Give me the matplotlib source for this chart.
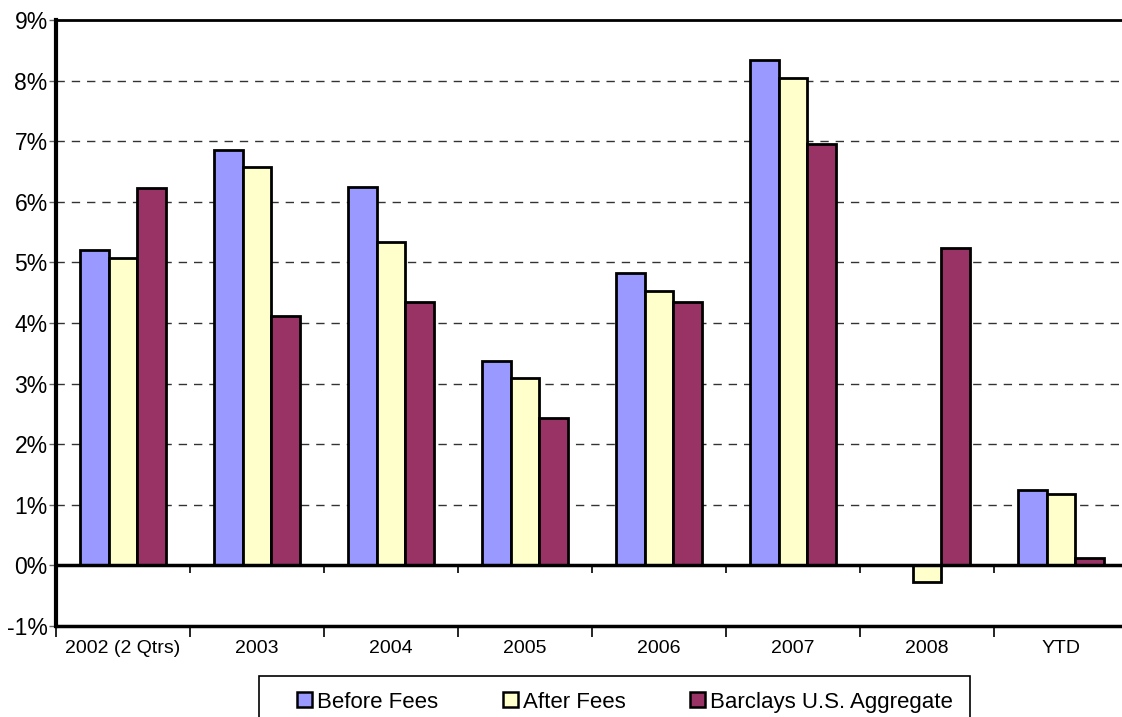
"""Annual returns: portfolio before/after fees vs. Barclays U.S. Aggregate."""

import matplotlib
matplotlib.use("Agg")
import matplotlib.pyplot as plt
import numpy as np
from matplotlib.patches import Rectangle
from matplotlib.ticker import FixedLocator, NullFormatter

categories = ["2002 (2 Qtrs)", "2003", "2004", "2005", "2006", "2007", "2008", "YTD"]
before_fees = [5.21, 6.85, 6.24, 3.37, 4.82, 8.34, 0.0, 1.25]
after_fees = [5.07, 6.58, 5.33, 3.09, 4.52, 8.05, -0.27, 1.18]
barclays_agg = [6.22, 4.11, 4.34, 2.44, 4.34, 6.96, 5.24, 0.13]

series = [
    ("Before Fees", before_fees, "#9999FF"),
    ("After Fees", after_fees, "#FFFFCC"),
    ("Barclays U.S. Aggregate", barclays_agg, "#993366"),
]
y_ticks = list(range(-1, 10))

W, H = 1122, 717
plt.rcParams["font.family"] = ["Liberation Sans", "DejaVu Sans"]

fig = plt.figure(figsize=(W / 100, H / 100), dpi=100)
ax = fig.add_axes([56 / W, 1 - 626 / H, 1072 / W, 606 / H])

x = np.arange(len(categories))
width = 0.216
for i, (label, vals, color) in enumerate(series):
    ax.bar(x + (i - 1) * width, vals, width, color=color, edgecolor="black",
           linewidth=2, label=label, zorder=3)

ax.set_xlim(-0.5, len(categories) - 0.5)
ax.set_ylim(y_ticks[0], y_ticks[-1])

# dashed gridlines and heavy zero line
for t in y_ticks[1:-1]:
    if t == 0:
        ax.axhline(0, color="black", linewidth=2.5, zorder=4)
    else:
        ax.axhline(t, color="#333333", linewidth=1, linestyle=(0, (6, 5)), zorder=1)

# tick marks hanging under the zero line at category boundaries
bounds = np.arange(0.5, len(categories) - 0.5, 1.0)
ax.vlines(bounds, -0.13, 0, color="black", linewidth=1.2, zorder=4)

ax.set_yticks(y_ticks)
ax.set_yticklabels([f"{t}%" for t in y_ticks], fontsize=16.5)
ax.tick_params(axis="y", length=5, width=1, color="#666666", pad=1)

ax.xaxis.set_major_locator(FixedLocator(np.arange(-0.5, len(categories), 1.0)))
ax.xaxis.set_major_formatter(NullFormatter())
ax.xaxis.set_minor_locator(FixedLocator(x))
ax.set_xticklabels(categories, minor=True, fontsize=14)
ax.tick_params(axis="x", which="major", length=8, width=1.2, color="black")
ax.tick_params(axis="x", which="minor", length=0, pad=10)

ax.spines["right"].set_visible(False)
ax.spines["left"].set_linewidth(3)
ax.spines["bottom"].set_linewidth(2.5)
ax.spines["top"].set_linewidth(2)


# legend box drawn by hand so entries sit where the original has them
def fpx(px, py):
    return px / W, 1 - py / H


box_l, box_t, box_r = 259, 676, 970
fig.add_artist(Rectangle(fpx(box_l, H + 10), (box_r - box_l) / W, (H + 10 - box_t) / H,
                         transform=fig.transFigure, facecolor="white",
                         edgecolor="black", linewidth=1.2))
entry_x = [297, 503, 690]
sq = 15
for (label, _, color), ex in zip(series, entry_x):
    fig.add_artist(Rectangle(fpx(ex, 707), sq / W, sq / H, transform=fig.transFigure,
                             facecolor=color, edgecolor="black", linewidth=1.8))
    fig.text(*fpx(ex + sq + 5, 700), label, fontsize=16, va="center_baseline", ha="left")

fig.savefig("out.png", dpi=100)
